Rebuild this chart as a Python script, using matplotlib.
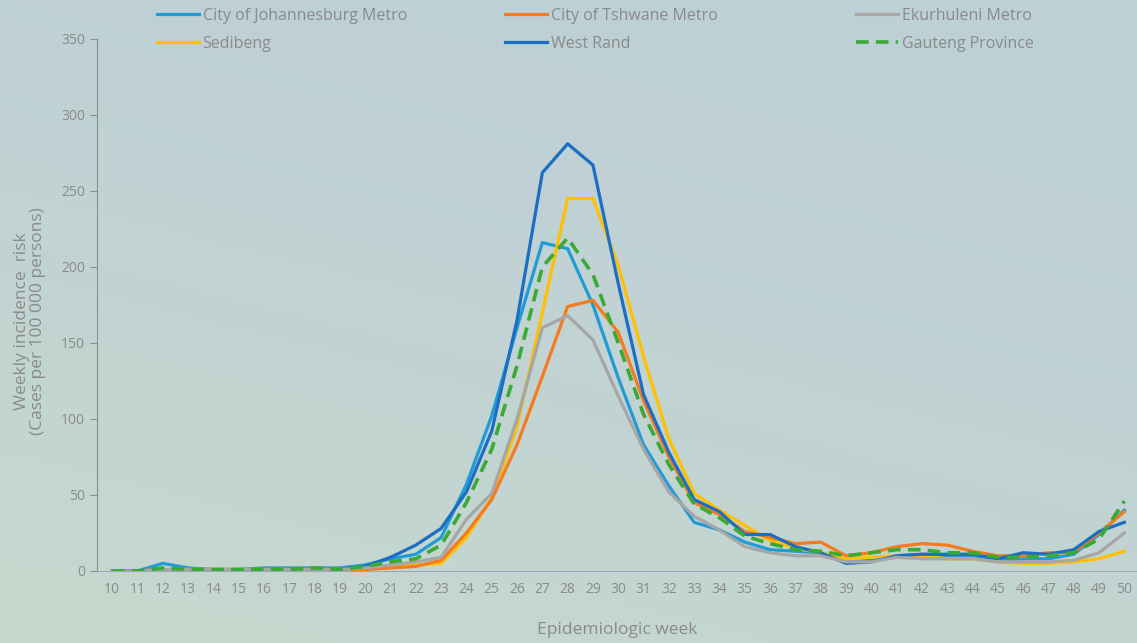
import numpy as np
import matplotlib.pyplot as plt

weeks = list(range(10, 51))

johannesburg = [0, 0, 5, 2, 1, 1, 2, 2, 2, 2, 4, 8, 11, 22, 57, 102, 160, 216, 212, 175,
                127, 83, 56, 32, 27, 19, 14, 13, 12, 6, 7, 10, 11, 10, 10, 7, 8, 8, 11, 24, 40]
tshwane = [0, 0, 1, 1, 1, 1, 1, 1, 1, 1, 1, 2, 3, 7, 25, 47, 83, 128, 174, 178,
           157, 112, 75, 45, 37, 26, 22, 18, 19, 10, 12, 16, 18, 17, 13, 10, 10, 12, 12, 25, 39]
ekurhuleni = [0, 0, 1, 1, 1, 1, 1, 1, 1, 1, 2, 4, 6, 9, 34, 51, 100, 160, 168, 152,
              115, 80, 52, 36, 27, 16, 12, 10, 10, 6, 6, 9, 8, 8, 8, 6, 6, 6, 7, 12, 25]
sedibeng = [0, 0, 1, 1, 1, 1, 1, 1, 1, 1, 1, 3, 4, 5, 22, 48, 95, 170, 245, 245,
            201, 141, 87, 51, 40, 30, 20, 15, 12, 8, 9, 10, 10, 8, 8, 6, 5, 5, 6, 8, 13]
west_rand = [0, 0, 1, 0, 0, 0, 1, 1, 1, 1, 3, 9, 17, 28, 52, 92, 165, 262, 281, 267,
             189, 116, 78, 47, 39, 24, 24, 16, 12, 5, 6, 10, 11, 11, 11, 8, 12, 11, 14, 26, 32]
gauteng = [0, 0, 2, 1, 1, 1, 1, 1, 2, 1, 3, 6, 8, 17, 45, 80, 135, 200, 219, 195,
           150, 103, 70, 44, 35, 23, 18, 14, 13, 10, 12, 14, 14, 12, 12, 9, 9, 10, 12, 21, 46]

series = [
    ('City of Johannesburg Metro', johannesburg, '#1f9bd7', '-'),
    ('Sedibeng', sedibeng, '#ffc000', '-'),
    ('City of Tshwane Metro', tshwane, '#f47b20', '-'),
    ('West Rand', west_rand, '#1b6ec2', '-'),
    ('Ekurhuleni Metro', ekurhuleni, '#a6a6a6', '-'),
    ('Gauteng Province', gauteng, '#3aaa35', '--'),
]

txt = '#8a8a8a'
plt.rcParams['font.family'] = ['Open Sans', 'DejaVu Sans']

fig = plt.figure(figsize=(11.37, 6.43), dpi=100)

# background gradient
bg = fig.add_axes([0, 0, 1, 1], zorder=-10)
yy, xx = np.mgrid[0:1:200j, 0:1:200j]
t = np.clip((yy * 0.8 + (1 - xx) * 0.35) - 0.25, 0, 1)
top = np.array([0.745, 0.816, 0.839])
bot = np.array([0.780, 0.851, 0.800])
img = top[None, None, :] * (1 - t[..., None]) + bot[None, None, :] * t[..., None]
bg.imshow(img, aspect='auto', extent=[0, 1, 1, 0])
bg.axis('off')

ax = fig.add_axes([0.0853, 0.112, 0.9147, 0.8275])
ax.patch.set_alpha(0)
lines = []
for name, vals, col, ls in series:
    if ls == '--':
        l, = ax.plot(weeks, vals, color=col, lw=2.6, ls=(0, (3.5, 2)), label=name, zorder=5)
    else:
        l, = ax.plot(weeks, vals, color=col, lw=2.3, label=name)
    lines.append(l)

ax.set_xlim(9.4, 50.5)
ax.set_ylim(0, 350)
ax.set_xticks(weeks)
ax.set_yticks(range(0, 351, 50))
ax.tick_params(axis='x', length=0, labelsize=10, colors=txt, pad=8)
ax.tick_params(axis='y', length=5, labelsize=10, colors=txt, color='#8c8c8c')
for s in ['top', 'right']:
    ax.spines[s].set_visible(False)
ax.spines['left'].set_color('#8c8c8c')
ax.spines['bottom'].set_color('#9aaabb')

ax.set_xlabel('Epidemiologic week', fontsize=12.5, color=txt, labelpad=18)
ax.set_ylabel('Weekly incidence  risk\n(Cases per 100 000 persons)', fontsize=12.5,
              color=txt, linespacing=1.0)
ax.yaxis.set_label_coords(-0.049, 0.47)

# three legend columns at fixed positions
for i, x0 in enumerate([157, 505, 856]):
    hs = lines[2 * i:2 * i + 2]
    leg = fig.legend(hs, [h.get_label() for h in hs], loc='upper left',
                     bbox_to_anchor=(x0 / 1137, 1 - 8 / 643), frameon=False,
                     fontsize=11.5, handlelength=2.6, handletextpad=0.25,
                     labelspacing=0.72, borderpad=0, borderaxespad=0)
    for t_ in leg.get_texts():
        t_.set_color(txt)

fig.savefig('out.png', dpi=100)
